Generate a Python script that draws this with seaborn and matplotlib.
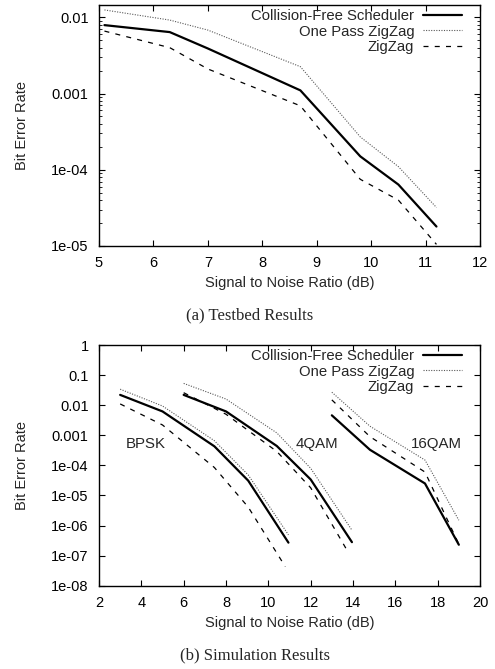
import matplotlib
matplotlib.use("Agg")
import matplotlib.pyplot as plt
import matplotlib.ticker as mticker
import seaborn as sns
import pandas as pd

# --- data ---
schemes = ["Collision-Free Scheduler", "One Pass ZigZag", "ZigZag"]

# (a) testbed
snr_testbed = [5.1, 6.3, 7.0, 8.7, 9.8, 10.5, 11.2]
cfs_testbed = [0.0079, 0.0064, 0.0039, 0.0011, 1.5e-4, 6.4e-5, 1.8e-5]
onepass_testbed = [0.0125, 0.0092, 0.0068, 0.00225, 2.7e-4, 1.1e-4, 3.2e-5]
zigzag_testbed = [0.0066, 0.0040, 0.0021, 6.9e-4, 7.5e-5, 4.0e-5, 1.05e-5]

# (b) simulation, one curve per modulation
snr_bpsk = [3.0, 5.0, 7.45, 9.05, 10.95]
cfs_bpsk = [0.022, 0.0062, 4.3e-4, 3.1e-5, 2.7e-7]
onepass_bpsk = [0.034, 0.0094, 6.6e-4, 4.8e-5, 4.9e-7]
snr_bpsk_zz = [3.0, 5.0, 7.45, 9.05, 10.8]
zigzag_bpsk = [0.011, 0.0022, 8.5e-5, 4.1e-6, 4.3e-8]

snr_4qam = [6.0, 8.0, 10.4, 12.0, 13.95]
cfs_4qam = [0.022, 0.0062, 4.4e-4, 3.4e-5, 2.8e-7]
onepass_4qam = [0.053, 0.016, 0.0012, 8e-5, 7e-7]
snr_4qam_zz = [6.0, 8.0, 10.4, 12.0, 13.8]
zigzag_4qam = [0.026, 0.005, 2.9e-4, 1.8e-5, 1.2e-7]

snr_16qam = [13.0, 14.8, 17.4, 19.0]
cfs_16qam = [0.0046, 3.3e-4, 2.5e-5, 2.3e-7]
onepass_16qam = [0.027, 0.002, 1.5e-4, 1.5e-6]
zigzag_16qam = [0.015, 9e-4, 6e-5, 2.4e-7]

mod_labels = ["BPSK", "4QAM", "16QAM"]
mod_label_x = [4.2, 12.3, 17.95]
mod_label_y = 5e-4


def long_df(snr, ber, scheme, mod):
    return pd.DataFrame({"snr": snr, "ber": ber, "scheme": scheme, "mod": mod})


testbed = pd.concat([
    long_df(snr_testbed, cfs_testbed, schemes[0], "testbed"),
    long_df(snr_testbed, onepass_testbed, schemes[1], "testbed"),
    long_df(snr_testbed, zigzag_testbed, schemes[2], "testbed"),
])

sim = pd.concat([
    long_df(snr_bpsk, cfs_bpsk, schemes[0], "BPSK"),
    long_df(snr_bpsk, onepass_bpsk, schemes[1], "BPSK"),
    long_df(snr_bpsk_zz, zigzag_bpsk, schemes[2], "BPSK"),
    long_df(snr_4qam, cfs_4qam, schemes[0], "4QAM"),
    long_df(snr_4qam, onepass_4qam, schemes[1], "4QAM"),
    long_df(snr_4qam_zz, zigzag_4qam, schemes[2], "4QAM"),
    long_df(snr_16qam, cfs_16qam, schemes[0], "16QAM"),
    long_df(snr_16qam, onepass_16qam, schemes[1], "16QAM"),
    long_df(snr_16qam, zigzag_16qam, schemes[2], "16QAM"),
])

# line look per scheme (gnuplot-ish)
styles = {
    schemes[0]: dict(color="black", lw=1.6, ls="-"),
    schemes[1]: dict(color="0.35", lw=0.8, ls=(0, (1, 1.3))),
    schemes[2]: dict(color="black", lw=0.9, ls=(0, (4, 5))),
}

sns.set_style("ticks")
plt.rcParams["font.family"] = ["Liberation Sans", "DejaVu Sans"]
plt.rcParams["axes.linewidth"] = 1.0

fig = plt.figure(figsize=(4.95, 6.69), dpi=100)
ax_a = fig.add_axes([0.2, 0.6323, 0.7697, 0.3602])
ax_b = fig.add_axes([0.2, 0.1245, 0.7697, 0.3598])


def ber_fmt(v, pos):
    if v >= 1e-3:
        return f"{v:g}"
    return f"{v:.0e}"


def draw(ax, df):
    for name in schemes:
        st = styles[name]
        sns.lineplot(data=df[df["scheme"] == name], x="snr", y="ber",
                     units="mod", estimator=None, sort=False,
                     color=st["color"], linewidth=st["lw"],
                     linestyle=st["ls"], label=name, ax=ax, legend=False)
    ax.set_yscale("log")
    ax.yaxis.set_major_formatter(mticker.FuncFormatter(ber_fmt))
    ax.tick_params(which="both", direction="in", top=True, right=True,
                   labelsize=10.5, colors="black", pad=7.5)
    ax.tick_params(which="major", length=4, width=0.8)
    ax.tick_params(which="minor", length=2, width=0.6)
    for sp in ax.spines.values():
        sp.set_visible(True)
        sp.set_color("black")
    ax.set_xlabel("Signal to Noise Ratio (dB)", fontsize=10.5)
    ax.set_ylabel("Bit Error Rate", fontsize=10.5)
    ax.xaxis.set_label_coords(0.5, -0.125)
    ax.yaxis.set_label_coords(-0.183, 0.5)

    # one legend entry per scheme
    handles, labels = ax.get_legend_handles_labels()
    uniq = dict(zip(labels, handles))
    ax.legend(uniq.values(), uniq.keys(), loc="upper right",
              bbox_to_anchor=(0.952, 0.983), frameon=False, markerfirst=False,
              fontsize=10.7, handlelength=2.6, handletextpad=0.6,
              labelspacing=0.1, borderpad=0, borderaxespad=0)


draw(ax_a, testbed)
ax_a.set_xlim(5, 12)
ax_a.set_ylim(1e-5, 0.0145)
ax_a.yaxis.set_minor_locator(mticker.LogLocator(base=10, subs=range(2, 10), numticks=20))
ax_a.yaxis.set_minor_formatter(mticker.NullFormatter())

draw(ax_b, sim)
ax_b.set_xlim(2, 20)
ax_b.set_ylim(1e-8, 1)
ax_b.xaxis.set_major_locator(mticker.MultipleLocator(2))
ax_b.yaxis.set_major_locator(mticker.LogLocator(base=10, numticks=20))
ax_b.yaxis.set_minor_locator(mticker.NullLocator())

for lab, x in zip(mod_labels, mod_label_x):
    ax_b.text(x, mod_label_y, lab, ha="center", va="center", fontsize=10.8)

fig.text(0.505, 0.529, "(a) Testbed Results", ha="center", va="center",
         fontsize=12, family="Liberation Serif")
fig.text(0.515, 0.0209, "(b) Simulation Results", ha="center", va="center",
         fontsize=12, family="Liberation Serif")

fig.savefig("out.png", dpi=100)
